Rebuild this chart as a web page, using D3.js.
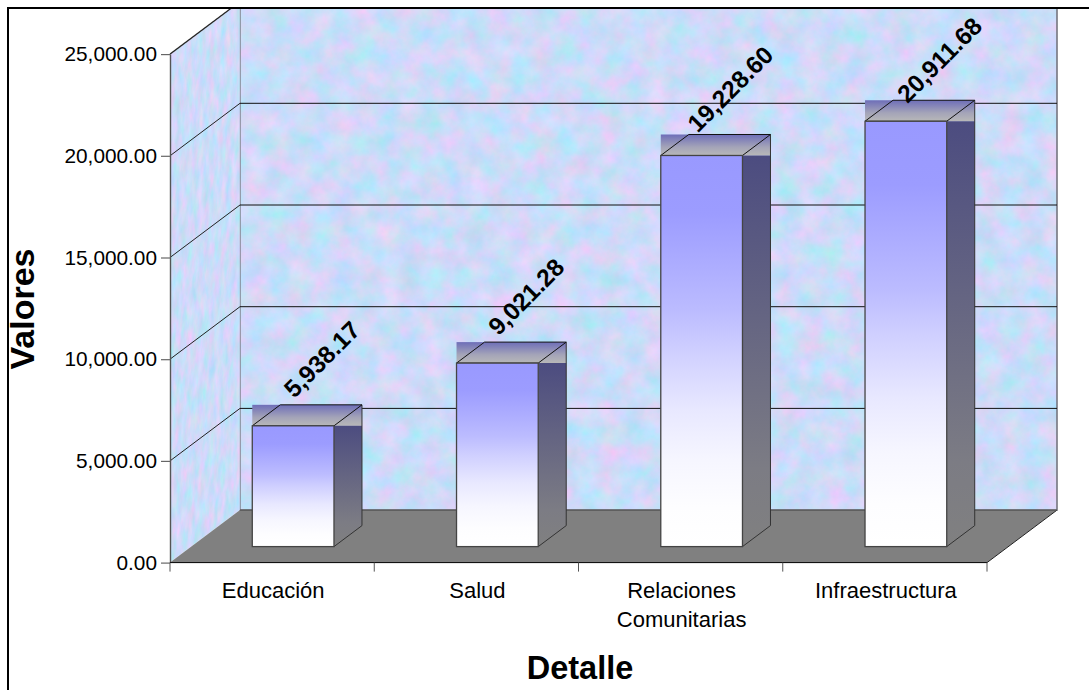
<!DOCTYPE html>
<html>
<head>
<meta charset="utf-8">
<script src="https://cdnjs.cloudflare.com/ajax/libs/d3/7.8.5/d3.min.js"></script>
<style>
  html, body { margin: 0; padding: 0; background: #fff; }
  svg { display: block; }
  text { font-family: "Liberation Sans", Arial, sans-serif; fill: #000; }
</style>
</head>
<body>
<svg id="chart" width="1089" height="690"></svg>
<script>
const categories = ["Educación", "Salud", "Relaciones Comunitarias", "Infraestructura"];
const values = [5938.17, 9021.28, 19228.60, 20911.68];
const yTicks = [0, 5000, 10000, 15000, 20000, 25000];

const W = 1089, H = 690;
const plot = { left: 170, right: 987, bottom: 562.6, top: 54.1 };
const depth = { x: 70, y: 52.5 };
const barDepth = { x: 28, y: 21 };
const barOffset = { x: 21, y: 16 };

const svg = d3.select("#chart");
const defs = svg.append("defs");

const y = d3.scaleLinear().domain([0, 25000]).range([plot.bottom, plot.top]);
const x = d3.scaleBand().domain(categories).range([plot.left, plot.right])
  .paddingInner(0.6).paddingOuter(0.3);
const fmt = d3.format(",.2f");

// wall texture
const tex = defs.append("filter").attr("id", "marble")
  .attr("x", 0).attr("y", 0).attr("width", 1).attr("height", 1)
  .attr("color-interpolation-filters", "sRGB");
tex.append("feTurbulence").attr("type", "fractalNoise")
  .attr("baseFrequency", "0.045").attr("numOctaves", 5).attr("seed", 7);
tex.append("feColorMatrix").attr("type", "matrix").attr("values",
  "0.36 0 0 0 0.62 " +
  "-0.12 0.1 0 0 0.87 " +
  "0 0 0.1 0 0.925 " +
  "0 0 0 0 1");
tex.append("feComposite").attr("operator", "in").attr("in2", "SourceAlpha");

function gradient(id, stops) {
  const g = defs.append("linearGradient").attr("id", id)
    .attr("x1", 0).attr("y1", 0).attr("x2", 0).attr("y2", 1);
  stops.forEach(s => g.append("stop").attr("offset", s[0]).attr("stop-color", s[1]));
}
gradient("front", [[0, "#9999ff"], [0.15, "#9c9cff"], [0.4, "#bcbcff"], [0.5, "#cfcfff"],
  [0.65, "#e8e8ff"], [0.78, "#f6f6ff"], [0.9, "#fdfdff"], [1, "#ffffff"]]);
gradient("side", [[0, "#4c4c80"], [0.8, "#7c7c84"], [1, "#808080"]]);
gradient("top", [[0, "#6e6eb8"], [0.6, "#a4a4b8"], [1, "#b8b8b8"]]);

defs.append("clipPath").attr("id", "inside").append("rect")
  .attr("x", 9).attr("y", 9).attr("width", W).attr("height", H);

const scene = svg.append("g").attr("clip-path", "url(#inside)");

// back wall
scene.append("rect")
  .attr("x", plot.left + depth.x).attr("y", y(25000) - depth.y)
  .attr("width", plot.right - plot.left).attr("height", plot.bottom - plot.top)
  .attr("fill", "#fff")
  .attr("filter", "url(#marble)");
scene.append("rect")
  .attr("x", plot.left + depth.x).attr("y", y(25000) - depth.y)
  .attr("width", plot.right - plot.left).attr("height", plot.bottom - plot.top)
  .attr("fill", "none").attr("stroke", "#75757f").attr("stroke-width", 1.6);

// side wall, same texture pressed into the skew
const sideK = 0.25;
scene.append("g")
  .attr("transform", `matrix(${sideK},${-sideK * depth.y / depth.x},0,1,${plot.left},${y(25000)})`)
  .append("rect")
  .attr("x", 0).attr("y", 0)
  .attr("width", depth.x / sideK).attr("height", plot.bottom - plot.top)
  .attr("fill", "#fff")
  .attr("filter", "url(#marble)");
scene.append("path")
  .attr("d", d3.line()([
    [plot.left, y(25000)], [plot.left + depth.x, y(25000) - depth.y]
  ]))
  .attr("fill", "none").attr("stroke", "#666").attr("stroke-width", 1.4);

// floor
scene.append("path")
  .attr("d", d3.line()([
    [plot.left, plot.bottom], [plot.right, plot.bottom],
    [plot.right + depth.x, plot.bottom - depth.y], [plot.left + depth.x, plot.bottom - depth.y]
  ]) + "Z")
  .attr("fill", "#808080");
scene.append("path")
  .attr("d", d3.line()([
    [plot.right, plot.bottom], [plot.right + depth.x, plot.bottom - depth.y]
  ]))
  .attr("stroke", "#222").attr("fill", "none");
scene.append("line")
  .attr("x1", plot.left + depth.x).attr("x2", plot.right + depth.x)
  .attr("y1", plot.bottom - depth.y).attr("y2", plot.bottom - depth.y)
  .attr("stroke", "#555").attr("stroke-width", 1.4);

// gridlines
const gridTicks = yTicks.filter(d => d > 0);
scene.selectAll(".grid-back").data(gridTicks).join("line")
  .attr("class", "grid-back")
  .attr("x1", plot.left + depth.x).attr("x2", plot.right + depth.x)
  .attr("y1", d => y(d) - depth.y).attr("y2", d => y(d) - depth.y)
  .attr("stroke", "#111").attr("stroke-width", 1);
scene.selectAll(".grid-side").data(gridTicks).join("line")
  .attr("class", "grid-side")
  .attr("x1", plot.left).attr("x2", plot.left + depth.x)
  .attr("y1", d => y(d)).attr("y2", d => y(d) - depth.y)
  .attr("stroke", "#222").attr("stroke-width", 1);

// bars
const bar = scene.selectAll(".bar").data(categories).join("g").attr("class", "bar");
const bw = x.bandwidth();
const fx = d => x(d) + barOffset.x;
const fy = i => y(values[i]) - barOffset.y;
const fb = plot.bottom - barOffset.y;

bar.append("rect")
  .attr("x", d => fx(d)).attr("y", (d, i) => fy(i) - barDepth.y)
  .attr("width", bw + barDepth.x).attr("height", barDepth.y)
  .attr("fill", "url(#top)");
bar.append("path")
  .attr("d", (d, i) => d3.line()([
    [fx(d) + bw, fy(i)], [fx(d) + bw + barDepth.x, fy(i)],
    [fx(d) + bw + barDepth.x, fb - barDepth.y], [fx(d) + bw, fb]
  ]) + "Z")
  .attr("fill", "url(#side)");
bar.append("path")
  .attr("d", (d, i) => d3.line()([
    [fx(d) + bw + barDepth.x, fy(i) - barDepth.y],
    [fx(d) + bw + barDepth.x, fb - barDepth.y], [fx(d) + bw, fb]
  ]))
  .attr("fill", "none").attr("stroke", "#333").attr("stroke-width", 1);
bar.append("path")
  .attr("d", (d, i) => d3.line()([
    [fx(d), fy(i)], [fx(d) + barDepth.x, fy(i) - barDepth.y],
    [fx(d) + bw + barDepth.x, fy(i) - barDepth.y], [fx(d) + bw, fy(i)]
  ]) + "Z")
  .attr("fill", "none").attr("stroke", "#111").attr("stroke-width", 1);
bar.append("rect")
  .attr("x", d => fx(d)).attr("y", (d, i) => fy(i))
  .attr("width", bw).attr("height", (d, i) => fb - fy(i))
  .attr("fill", "url(#front)").attr("stroke", "#444").attr("stroke-width", 1.3);

// axes
const yAxis = svg.append("g").attr("transform", `translate(${plot.left},0)`)
  .call(d3.axisLeft(y).tickValues(yTicks).tickFormat(fmt).tickSize(9).tickPadding(4).tickSizeOuter(0));
yAxis.select(".domain").attr("stroke", "#555").attr("stroke-width", 1.4);
yAxis.selectAll(".tick line").attr("stroke", "#666").attr("stroke-width", 1.2);
yAxis.selectAll("text").style("font-size", "20.8px").style("font-family", '"Liberation Sans"');

svg.append("line")
  .attr("x1", plot.left).attr("x2", plot.right)
  .attr("y1", plot.bottom).attr("y2", plot.bottom)
  .attr("stroke", "#000").attr("stroke-width", 1);

const xEdges = [...categories.map(d => x(d) - x.step() * 0.3), plot.right];
svg.selectAll(".xtick").data(xEdges).join("line")
  .attr("class", "xtick")
  .attr("x1", d => d).attr("x2", d => d)
  .attr("y1", plot.bottom).attr("y2", plot.bottom + 9)
  .attr("stroke", "#555").attr("stroke-width", 1);

const xLab = svg.selectAll(".xlab").data(categories).join("text")
  .attr("class", "xlab")
  .attr("text-anchor", "middle")
  .style("font-size", "22px");
xLab.each(function (d) {
  const t = d3.select(this);
  d.split(" ").forEach((w, i) => {
    t.append("tspan")
      .attr("x", x(d) + bw / 2 + 1)
      .attr("y", 598 + i * 29)
      .text(w);
  });
});

// value labels (the last one sits a little lower and further right in the original)
svg.selectAll(".val").data(values).join("text")
  .attr("class", "val")
  .attr("text-anchor", "middle")
  .attr("dominant-baseline", "middle")
  .attr("transform", (d, i) => {
    const nudge = i === 3 ? 5 : 0;
    return `translate(${fx(categories[i]) + 71 + nudge},${fy(i) - 65 + nudge}) rotate(-45)`;
  })
  .style("font-size", "24.5px").style("font-weight", "bold")
  .text(d => fmt(d));

// titles
svg.append("text")
  .attr("transform", "translate(34,309) rotate(-90)")
  .attr("text-anchor", "middle")
  .style("font-size", "34px").style("font-weight", "bold")
  .text("Valores");
svg.append("text")
  .attr("x", 580).attr("y", 679)
  .attr("text-anchor", "middle")
  .style("font-size", "32.5px").style("font-weight", "bold")
  .text("Detalle");

// chart frame, runs off right and bottom
svg.append("path")
  .attr("d", d3.line()([[8, H + 5], [8, 8], [W + 5, 8]]))
  .attr("fill", "none").attr("stroke", "#000").attr("stroke-width", 2);
</script>
</body>
</html>
